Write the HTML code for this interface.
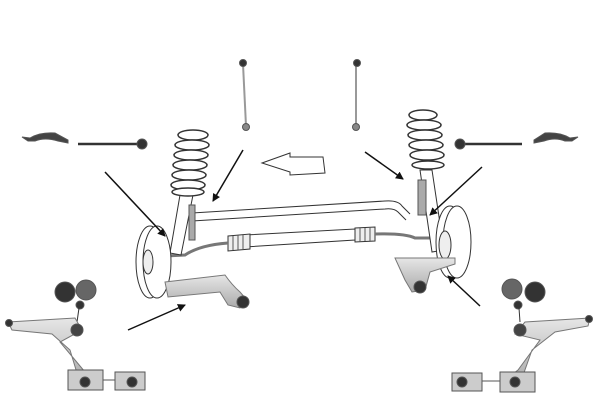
<!DOCTYPE html>
<html><head><meta charset="utf-8"><style>html,body{margin:0;padding:0;background:#fff}svg{display:block}</style></head>
<body>
<svg width="600" height="400" viewBox="0 0 600 400" xmlns="http://www.w3.org/2000/svg">
<defs>
<marker id="ah" markerWidth="8" markerHeight="8" refX="7" refY="4" orient="auto" markerUnits="userSpaceOnUse">
<path d="M0,0 L8,4 L0,8 z" fill="#111"/></marker>
<linearGradient id="g" x1="0" y1="0" x2="0" y2="1"><stop offset="0" stop-color="#e6e6e6"/><stop offset="1" stop-color="#aaa"/></linearGradient>
</defs>
<rect width="600" height="400" fill="#fff"/>
<g stroke="#555" fill="none" stroke-width="1">
<line x1="243" y1="64" x2="246" y2="126" stroke="#999" stroke-width="2"/>
<circle cx="243" cy="63" r="3.5" fill="#333"/><circle cx="246" cy="127" r="3.5" fill="#888"/>
<line x1="356" y1="64" x2="356" y2="126" stroke="#999" stroke-width="2"/>
<circle cx="357" cy="63" r="3.5" fill="#333"/><circle cx="356" cy="127" r="3.5" fill="#888"/>
<path d="M22,137 L30,138 Q40,132 55,133 L68,140 L68,143 L58,141 Q45,137 35,141 L28,141Z" fill="#444"/>
<line x1="78" y1="144" x2="140" y2="144" stroke="#333" stroke-width="2.5"/>
<circle cx="142" cy="144" r="5" fill="#333"/>
<path d="M578,137 L570,138 Q560,132 545,133 L534,140 L534,143 L544,141 Q555,137 565,141 L572,141Z" fill="#444"/>
<line x1="522" y1="144" x2="462" y2="144" stroke="#333" stroke-width="2.5"/>
<circle cx="460" cy="144" r="5" fill="#333"/>
<path d="M262,163 L290,153 L290,157 L323,157 L325,173 L290,175 L290,172 Z" fill="#fff" stroke="#333"/>
<path d="M192,213 L385,201 Q398,200 402,206 L410,214" stroke="#333"/>
<path d="M192,221 L385,209 Q394,208 398,212 L406,220" stroke="#333"/>
<path d="M245,235 L355,229 L355,240 L245,247 Z" fill="#fff" stroke="#333"/>
<path d="M228,236 L250,234 L250,249 L228,251 Z" fill="#eee" stroke="#333"/>
<path d="M233,236 v14 M238,235 v15 M243,235 v14" stroke="#555"/>
<path d="M355,228 L375,227 L375,241 L355,242 Z" fill="#eee" stroke="#333"/>
<path d="M360,228 v14 M365,228 v13 M370,227 v14" stroke="#555"/>
<path d="M228,243 Q200,245 185,255 L165,256" stroke="#777" stroke-width="3"/>
<path d="M375,234 Q405,233 415,238 L435,238" stroke="#777" stroke-width="3"/>
<path d="M180,195 L193,195 L181,255 L170,253 Z" fill="#fff" stroke="#333"/>
<g fill="#fff" stroke="#333" stroke-width="1.5">
<ellipse cx="193" cy="135" rx="15" ry="5"/><ellipse cx="192" cy="145" rx="17" ry="5"/>
<ellipse cx="191" cy="155" rx="17" ry="5"/><ellipse cx="190" cy="165" rx="17" ry="5"/>
<ellipse cx="189" cy="175" rx="17" ry="5"/><ellipse cx="188" cy="185" rx="17" ry="5"/>
<ellipse cx="188" cy="192" rx="16" ry="4"/></g>
<rect x="189" y="205" width="6" height="35" fill="#aaa"/>
<path d="M420,170 L432,170 L444,250 L432,252 Z" fill="#fff" stroke="#333"/>
<g fill="#fff" stroke="#333" stroke-width="1.5">
<ellipse cx="423" cy="115" rx="14" ry="5"/><ellipse cx="424" cy="125" rx="17" ry="5"/>
<ellipse cx="425" cy="135" rx="17" ry="5"/><ellipse cx="426" cy="145" rx="17" ry="5"/>
<ellipse cx="427" cy="155" rx="17" ry="5"/><ellipse cx="428" cy="165" rx="16" ry="4"/></g>
<rect x="418" y="180" width="8" height="35" fill="#aaa"/>
<ellipse cx="150" cy="262" rx="14" ry="36" fill="#fff" stroke="#333"/>
<ellipse cx="157" cy="262" rx="14" ry="36" fill="#fff" stroke="#333"/>
<ellipse cx="148" cy="262" rx="5" ry="12" fill="#eee" stroke="#333"/>
<ellipse cx="450" cy="242" rx="14" ry="36" fill="#fff" stroke="#333"/>
<ellipse cx="457" cy="242" rx="14" ry="36" fill="#fff" stroke="#333"/>
<ellipse cx="445" cy="245" rx="6" ry="14" fill="#eee" stroke="#333"/>
<path d="M165,282 L225,275 Q232,285 240,292 L247,300 L240,308 L228,305 L220,292 L168,297 Z" fill="url(#g)" stroke="#777"/>
<circle cx="243" cy="302" r="6" fill="#333"/>
<path d="M395,258 L455,258 L455,264 L430,272 L425,290 L412,292 L405,280 Z" fill="url(#g)" stroke="#777"/>
<circle cx="420" cy="287" r="6" fill="#333"/>
<circle cx="65" cy="292" r="10" fill="#333"/><circle cx="86" cy="290" r="10" fill="#666"/>
<circle cx="80" cy="305" r="4" fill="#333"/><line x1="79" y1="308" x2="77" y2="322" stroke="#333"/>
<path d="M8,322 L75,318 L82,330 L60,342 L85,372 L95,380 L80,383 L70,350 L52,334 L12,330 Z" fill="url(#g)" stroke="#777"/>
<circle cx="9" cy="323" r="3.5" fill="#333"/><circle cx="77" cy="330" r="6" fill="#444"/>
<rect x="68" y="370" width="35" height="20" fill="#ccc" stroke="#555"/><circle cx="85" cy="382" r="5" fill="#333"/>
<rect x="115" y="372" width="30" height="18" fill="#ccc" stroke="#555"/><circle cx="132" cy="382" r="5" fill="#333"/>
<line x1="103" y1="380" x2="115" y2="380" stroke="#555"/>
<circle cx="512" cy="289" r="10" fill="#666"/><circle cx="535" cy="292" r="10" fill="#333"/>
<circle cx="518" cy="305" r="4" fill="#333"/><line x1="519" y1="308" x2="520" y2="322" stroke="#333"/>
<path d="M590,318 L525,322 L515,334 L540,340 L518,370 L505,380 L520,384 L532,350 L555,332 L588,326 Z" fill="url(#g)" stroke="#777"/>
<circle cx="589" cy="319" r="3.5" fill="#333"/><circle cx="520" cy="330" r="6" fill="#444"/>
<rect x="500" y="372" width="35" height="20" fill="#ccc" stroke="#555"/><circle cx="515" cy="382" r="5" fill="#333"/>
<rect x="452" y="373" width="30" height="18" fill="#ccc" stroke="#555"/><circle cx="462" cy="382" r="5" fill="#333"/>
<line x1="482" y1="381" x2="500" y2="381" stroke="#555"/>
</g>
<g stroke="#111" stroke-width="1.5" marker-end="url(#ah)">
<line x1="105" y1="172" x2="165" y2="236"/>
<line x1="243" y1="150" x2="213" y2="201"/>
<line x1="128" y1="330" x2="185" y2="305"/>
<line x1="365" y1="152" x2="403" y2="179"/>
<line x1="482" y1="167" x2="430" y2="215"/>
<line x1="480" y1="306" x2="448" y2="276"/>
</g>
</svg>
</body></html>
